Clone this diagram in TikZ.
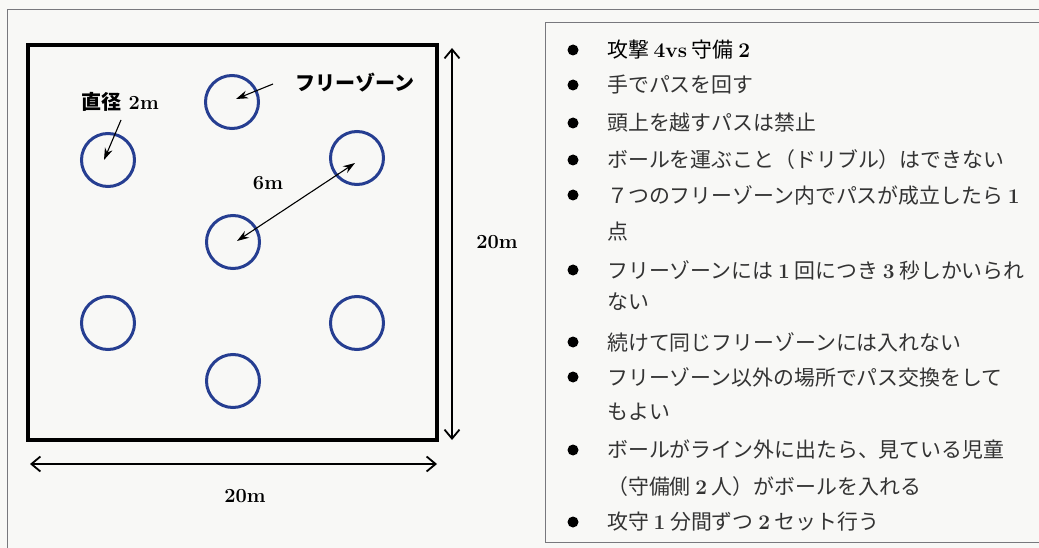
\documentclass[tikz,border=0pt]{standalone}
\usepackage{fontspec}
\newfontfamily\cjk{Noto Sans CJK JP}
\usetikzlibrary{arrows.meta}
\newcommand\lat[1]{{\rmfamily\bfseries #1}}
\definecolor{zoneblue}{RGB}{38,62,145}
\definecolor{paper}{RGB}{248,248,246}
\definecolor{frame}{RGB}{120,120,125}
\tikzset{
  zone/.style={circle,draw=zoneblue,line width=3pt,minimum size=53pt,inner sep=0pt},
  field/.style={draw=black,line width=3.2pt},
  dimarrow/.style={draw=black,line width=1.8pt,{Straight Barb[length=9pt,width=15pt]}-{Straight Barb[length=9pt,width=15pt]}},
  annot/.style={draw=black,line width=1.1pt,-{Stealth[length=12pt,width=8pt]}},
  annot2/.style={draw=black,line width=1.1pt,{Stealth[length=12pt,width=8pt]}-{Stealth[length=12pt,width=8pt]}},
  lbl/.style={font=\fontsize{20}{24}\selectfont\bfseries,inner sep=0pt,text=black},
  item/.style={anchor=west,inner sep=0pt,font=\cjk\fontsize{20.9}{24}\selectfont,text=black!80},
  dot/.style={circle,fill=black,minimum size=11pt,inner sep=0pt},
  thinframe/.style={draw=frame,line width=1pt}
}
\begin{document}
\begin{tikzpicture}[x=1pt,y=-1pt]
\useasboundingbox (0,0) rectangle (1039,548);
\fill[paper] (0,0) rectangle (1039,548);
% outer frame
\draw[thinframe] (7,560) -- (7,10) -- (1050,10);
% list box
\draw[thinframe] (1050,23) -- (545,23) -- (545,542) -- (1050,542);
% field
\node[field,minimum width=409pt,minimum height=395pt,inner sep=0pt] (fld) at (232.5,242.5) {};
% zones
\node[zone] (c1) at (232,102) {};
\node[zone] (c2) at (108,160) {};
\node[zone] (c3) at (357,158) {};
\node[zone] (c4) at (233,242) {};
\node[zone] (c5) at (108,323) {};
\node[zone] (c6) at (357,323) {};
\node[zone] (c7) at (233,381) {};
% labels
\node[lbl] (frz) at (355,83) {\cjk フリーゾーン};
\node[lbl] (dia) at (120,102) {{\cjk 直径}\ 2m};
\node[lbl] (six) at (268,183) {6m};
\node[lbl] (wv) at (497,242) {20m};
\node[lbl] (wh) at (245,496) {20m};
\coordinate (frzs) at (273,84);
\coordinate (c1t) at (236,99);
\coordinate (dias) at (121,120);
\coordinate (c2t) at (104,160);
\coordinate (c4t) at (237,241);
\coordinate (c3t) at (355,163);
\draw[annot] (frzs) -- (c1t);
\draw[annot] (dias) -- (c2t);
\draw[annot2] (c4t) -- (c3t);
% dimension arrows
\coordinate (vt) at (452,48);
\coordinate (vb) at (452,440);
\coordinate (hl) at (30,464);
\coordinate (hr) at (437,464);
\draw[dimarrow] (vt) -- (vb);
\draw[dimarrow] (hl) -- (hr);
% list
\foreach \y/\n in {50/d1,85/d2,123/d3,160/d4,195/d5,270/d6,342/d7,377/d8,450/d9,522/d10}
  \node[dot] (\n) at (573,\y) {};
\node[item,text=black] (t1) at (607,50) {攻撃\ \lat{4vs}\ 守備\ \lat{2}};
\node[item] (t2) at (607,85) {手でパスを回す};
\node[item] (t3) at (607,123) {頭上を越すパスは禁止};
\node[item] (t4) at (607,160) {ボールを運ぶこと（ドリブル）はできない};
\node[item] (t5) at (607,195) {７つのフリーゾーン内でパスが成立したら\ \lat{1}};
\node[item] (t5b) at (607,232) {点};
\node[item] (t6) at (607,270) {フリーゾーンには\ \lat{1}\ 回につき\ \lat{3}\ 秒しかいられ};
\node[item] (t6b) at (607,302) {ない};
\node[item] (t7) at (607,342) {続けて同じフリーゾーンには入れない};
\node[item] (t8) at (607,377) {フリーゾーン以外の場所でパス交換をして};
\node[item] (t8b) at (607,412) {もよい};
\node[item] (t9) at (607,450) {ボールがライン外に出たら、見ている児童};
\node[item] (t9b) at (607,487) {（守備側\ \lat{2}\ 人）がボールを入れる};
\node[item] (t10) at (607,522) {攻守\ \lat{1}\ 分間ずつ\ \lat{2}\ セット行う};
\end{tikzpicture}
\end{document}
